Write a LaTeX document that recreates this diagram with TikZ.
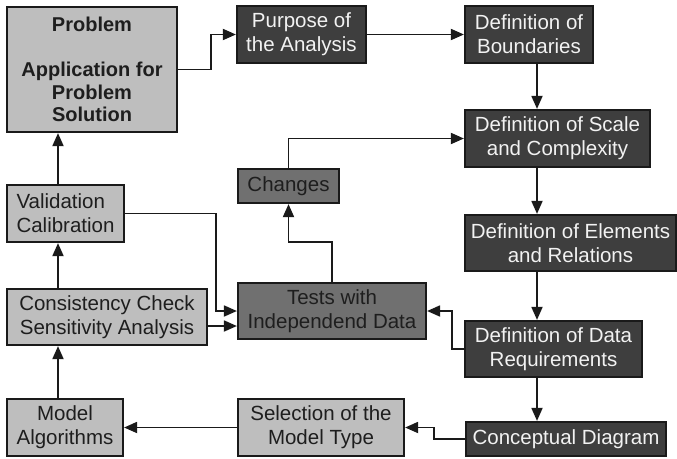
\documentclass[tikz,border=0pt]{standalone}
\usepackage{fontspec}
\setmainfont{Liberation Sans}
\usetikzlibrary{arrows.meta}
\definecolor{lightbox}{HTML}{BEBEBE}
\definecolor{midbox}{HTML}{707070}
\definecolor{darkbox}{HTML}{3E3E3E}
\definecolor{edge}{HTML}{1A1A1A}
\definecolor{darktext}{HTML}{1E1E1E}
\definecolor{lighttext}{HTML}{F2F2F2}
\begin{document}
\begin{tikzpicture}[x=1pt,y=-1pt,
  box/.style={draw=edge,line width=2.2pt,inner sep=0pt,align=center,
    font=\fontsize{20.5}{24}\selectfont},
  lbox/.style={box,fill=lightbox,text=darktext},
  mbox/.style={box,fill=midbox,text=darktext},
  dbox/.style={box,fill=darkbox,text=lighttext},
  dim/.style n args={2}{minimum width=#1pt,minimum height=#2pt},
  arr/.style={draw=edge,line width=1.8pt,-{Triangle[length=13pt,width=11pt]}}]
\useasboundingbox (0,0) rectangle (677,458);
% nodes
\node[lbox,dim={170}{125},font=\bfseries\fontsize{20}{22.5}\selectfont] (prob) at (92,69.5)
  {Problem\\[22.5pt]Application for\\Problem\\Solution};
\node[dbox,dim={129}{57}] (purp) at (301.5,34.5) {Purpose of\\the Analysis};
\node[dbox,dim={128}{57}] (bound) at (529,34.5) {Definition of\\Boundaries};
\node[dbox,dim={185}{57}] (scale) at (557.5,138.5) {Definition of Scale\\and Complexity};
\node[dbox,dim={211}{56}] (elem) at (570.5,243) {Definition of Elements\\and Relations};
\node[dbox,dim={177}{56}] (dreq) at (553.5,349) {Definition of Data\\Requirements};
\node[dbox,dim={200}{34}] (concept) at (566,439) {Conceptual Diagram};
\node[lbox,dim={166}{57}] (select) at (321,427.5) {Selection of the\\Model Type};
\node[lbox,dim={116}{57}] (model) at (65,427.5) {Model\\Algorithms};
\node[lbox,dim={200}{56}] (consist) at (107,317) {Consistency Check\\Sensitivity Analysis};
\node[mbox,dim={188}{56}] (tests) at (332,311) {Tests with\\Independend Data};
\node[lbox,dim={117}{57},align=left] (valid) at (65.5,213.5) {Validation\\Calibration};
\node[mbox,dim={101}{34}] (changes) at (288.5,186) {Changes};
% guide coordinates
\coordinate (colR) at (537,0);
\coordinate (colL) at (58,0);
\coordinate (rowC) at (0,326);
% connectors
\draw[arr] (prob.east) -- ++(33,0) |- (purp.west);
\draw[arr] (purp.east) -- (bound.west);
\draw[arr] (bound.south -| colR) -- (scale.north -| colR);
\draw[arr] (scale.south -| colR) -- (elem.north -| colR);
\draw[arr] (elem.south -| colR) -- (dreq.north -| colR);
\draw[arr] (dreq.south -| colR) -- (concept.north -| colR);
\draw[arr] (dreq.west) -- ++(-12,0) |- (tests.east);
\draw[arr] (concept.west) -- ++(-31,0) |- (select.east);
\draw[arr] (select.west) -- (model.east);
\draw[arr] (model.north -| colL) -- (consist.south -| colL);
\draw[arr] (consist.north -| colL) -- (valid.south -| colL);
\draw[arr] (valid.north -| colL) -- (prob.south -| colL);
\draw[arr] (valid.east) -- ++(91,0) |- (tests.west);
\draw[arr] (consist.east |- rowC) -- (tests.west |- rowC);
\draw[arr] (tests.north) -- ++(0,-40) -| (changes.south);
\draw[arr] (changes.north) |- (scale.west);
\end{tikzpicture}
\end{document}
